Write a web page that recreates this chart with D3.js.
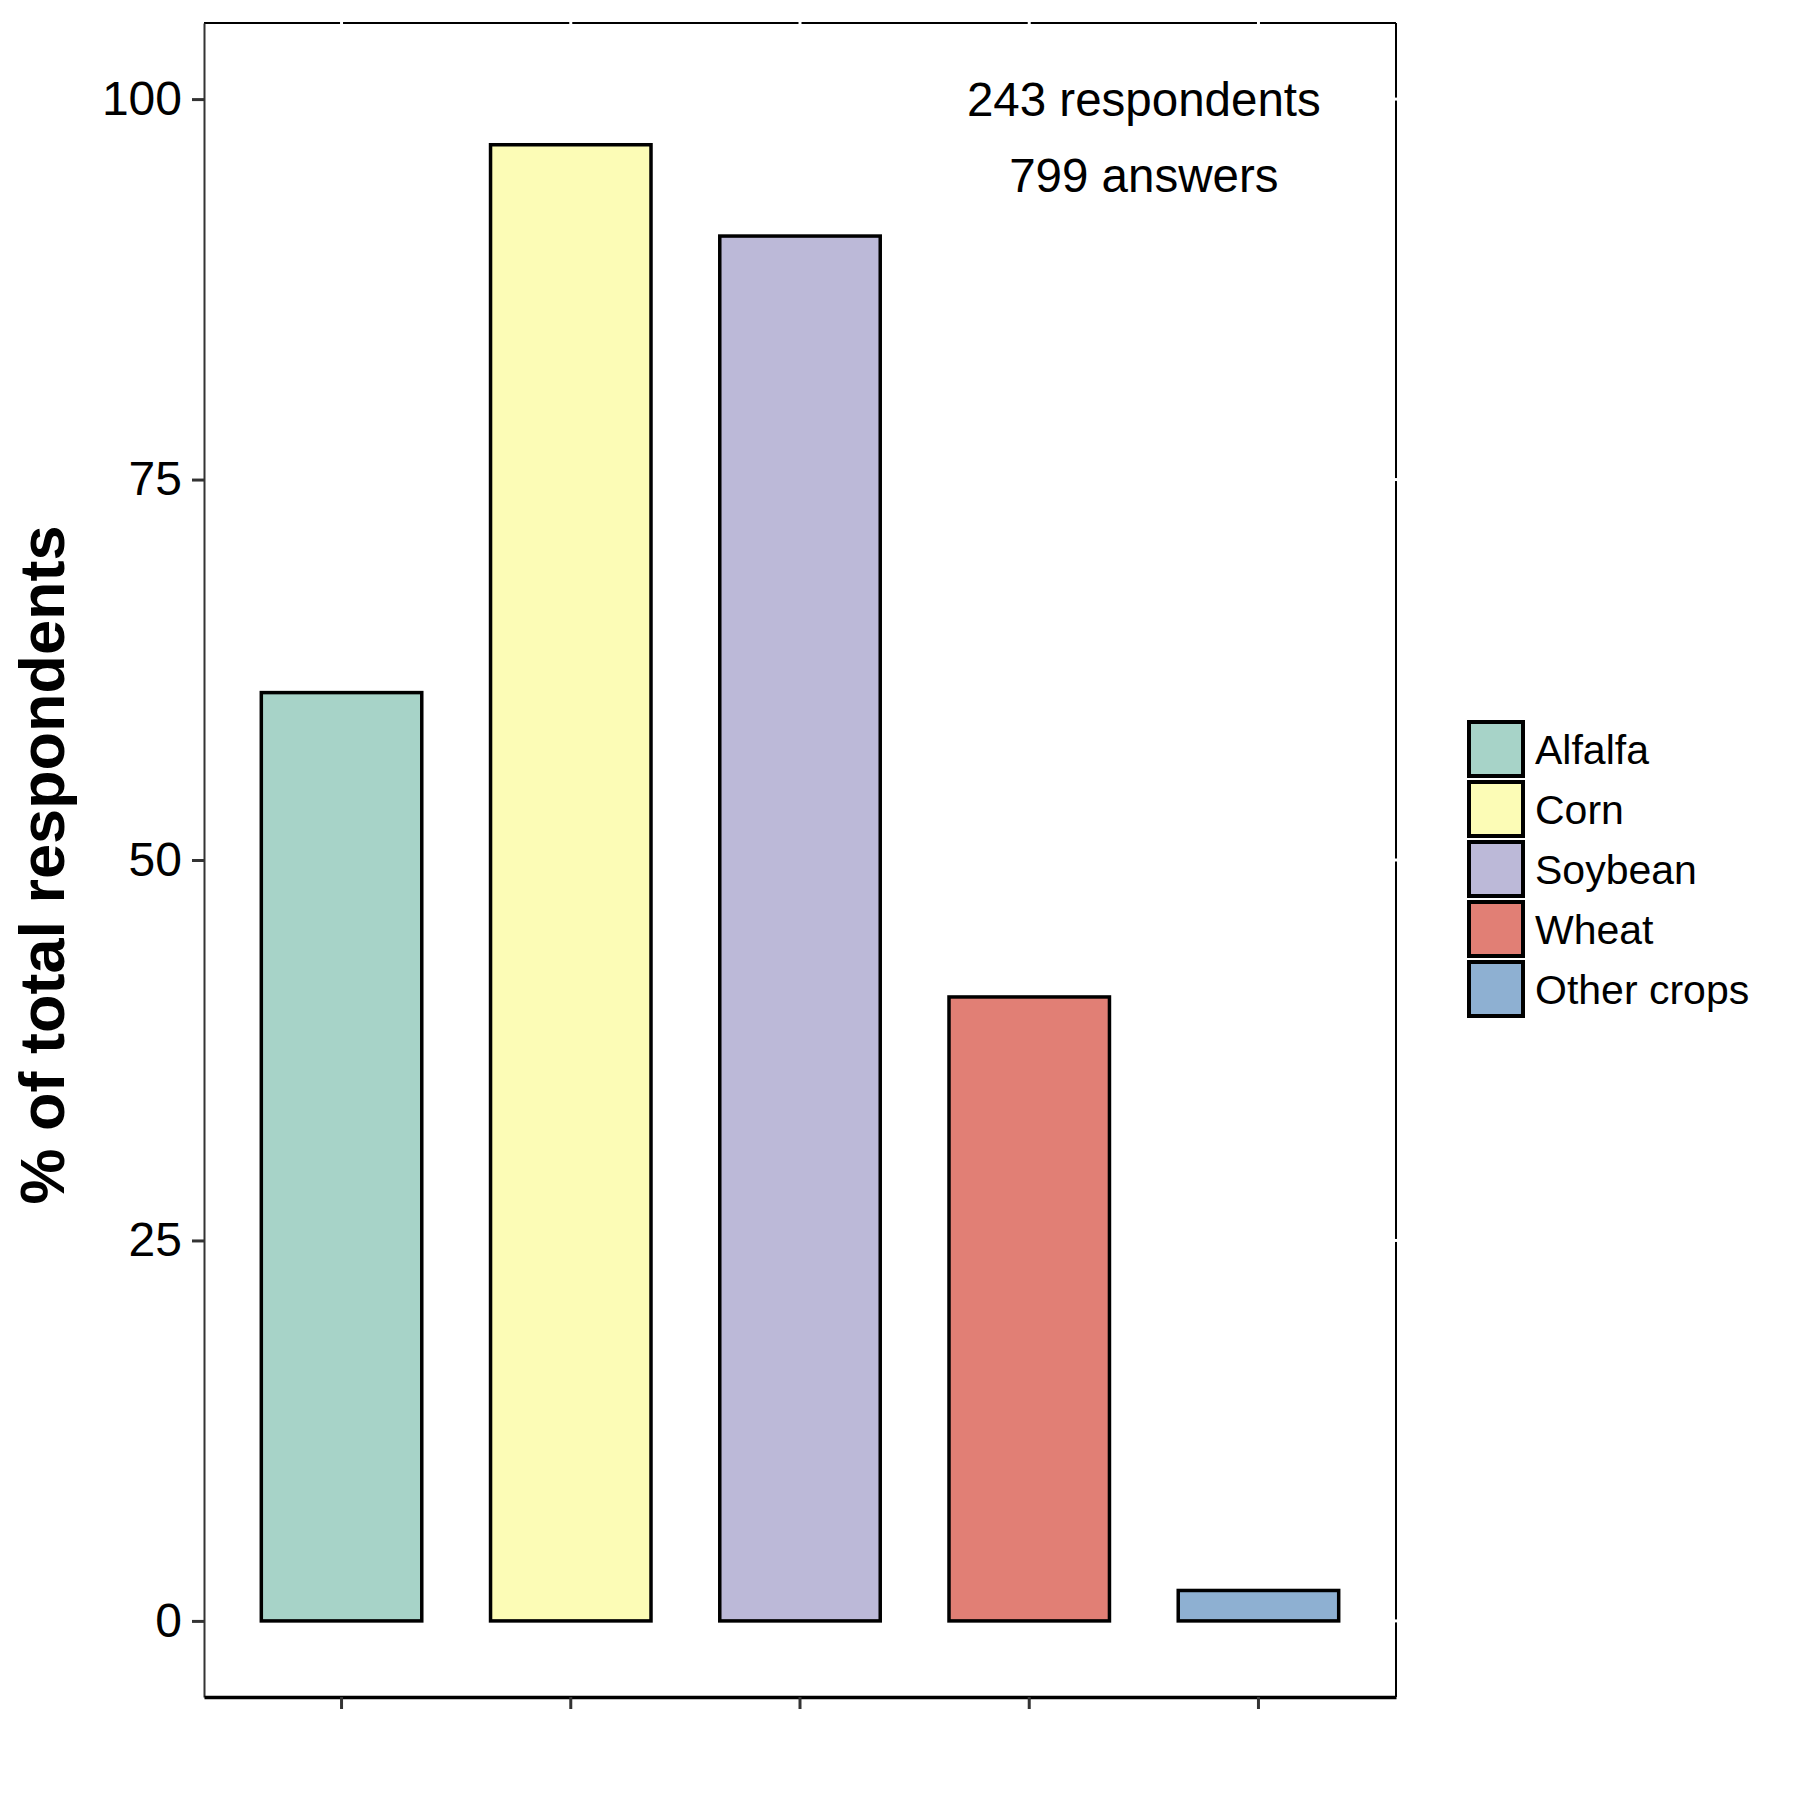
<!DOCTYPE html>
<html><head><meta charset="utf-8">
<script src="https://cdn.jsdelivr.net/npm/d3@7"></script>
<style>body{margin:0;background:#fff}svg{display:block}text{font-family:"Liberation Sans",Arial,Helvetica,sans-serif}</style>
</head><body>
<svg id="chart" width="1800" height="1800"></svg>
<script>
const categories = ["Alfalfa", "Corn", "Soybean", "Wheat", "Other crops"];
const values = [61, 97, 91, 41, 2];
const colors = ["#a7d3c8", "#fcfcb6", "#bcb9d8", "#e17f75", "#8eb0d2"];
const yTicks = [0, 25, 50, 75, 100];
const annotations = [{text: "243 respondents", y: 100}, {text: "799 answers", y: 95}];
const yTitle = "% of total respondents";

const svg = d3.select("#chart");
const L = 204, R = 1396, T = 23, B = 1697;

const x = d3.scaleBand().domain(categories).range([L, R]).paddingInner(0.3).paddingOuter(0.25);
const y = d3.scaleLinear().domain([-5, 105]).range([B, T]);
const color = d3.scaleOrdinal().domain(categories).range(colors);

svg.append("rect").attr("x", L).attr("y", T).attr("width", R - L).attr("height", B - T).attr("fill", "#fff");

// bars
svg.append("g").selectAll("rect").data(categories).join("rect")
  .attr("x", d => x(d))
  .attr("width", x.bandwidth())
  .attr("y", (d, i) => y(values[i]))
  .attr("height", (d, i) => y(0) - y(values[i]))
  .attr("fill", d => color(d))
  .attr("stroke", "#000").attr("stroke-width", 3.5);

// annotations
const xAnn = (x("Wheat") + x("Other crops")) / 2 + x.bandwidth() / 2;
svg.append("g").selectAll("text").data(annotations).join("text")
  .attr("x", xAnn).attr("y", d => y(d.y)).attr("dy", "0.35em")
  .attr("text-anchor", "middle").attr("font-size", 47.5).attr("fill", "#000")
  .text(d => d.text);

// panel border (top / right)
svg.append("line").attr("x1", L).attr("x2", R).attr("y1", T).attr("y2", T).attr("stroke", "#000").attr("stroke-width", 2);
svg.append("line").attr("x1", R).attr("x2", R).attr("y1", T).attr("y2", B).attr("stroke", "#000").attr("stroke-width", 2);

// white tick gaps on top and right borders
svg.append("g").selectAll("line").data(categories).join("line")
  .attr("x1", d => x(d) + x.bandwidth() / 2).attr("x2", d => x(d) + x.bandwidth() / 2)
  .attr("y1", T - 3).attr("y2", T + 4).attr("stroke", "#fff").attr("stroke-width", 3);
svg.append("g").selectAll("line").data(yTicks).join("line")
  .attr("y1", d => y(d)).attr("y2", d => y(d))
  .attr("x1", R - 4).attr("x2", R + 3).attr("stroke", "#fff").attr("stroke-width", 3);

// y axis
const yAxis = svg.append("g").attr("transform", `translate(${L},0)`)
  .call(d3.axisLeft(y).tickValues(yTicks).tickSize(12).tickPadding(10).tickSizeOuter(0));
yAxis.select(".domain").attr("stroke", "#333").attr("stroke-width", 2);
yAxis.selectAll(".tick line").attr("stroke", "#333").attr("stroke-width", 3);
yAxis.selectAll(".tick text").attr("font-size", 48).attr("fill", "#000")
  .attr("font-family", '"Liberation Sans",Arial,sans-serif');

// x axis (ticks only, no labels)
const xAxis = svg.append("g").attr("transform", `translate(0,${B})`)
  .call(d3.axisBottom(x).tickSize(12).tickSizeOuter(0).tickFormat(""));
xAxis.select(".domain").attr("stroke", "#000").attr("stroke-width", 3.5);
xAxis.selectAll(".tick line").attr("stroke", "#333").attr("stroke-width", 3);

// y title
svg.append("text")
  .attr("transform", `translate(64,${(T + B) / 2 + 5}) rotate(-90)`)
  .attr("text-anchor", "middle").attr("font-size", 63).attr("font-weight", "bold").attr("fill", "#000")
  .text(yTitle);

// legend
const lg = svg.append("g").attr("transform", "translate(1469,722)");
const rows = lg.selectAll("g").data(categories).join("g")
  .attr("transform", (d, i) => `translate(0,${i * 60})`);
rows.append("rect").attr("width", 54).attr("height", 54)
  .attr("fill", d => color(d)).attr("stroke", "#000").attr("stroke-width", 4);
rows.append("text").attr("x", 66).attr("y", 28).attr("dy", "0.35em")
  .attr("font-size", 41).attr("fill", "#000").text(d => d);
</script>
</body></html>
